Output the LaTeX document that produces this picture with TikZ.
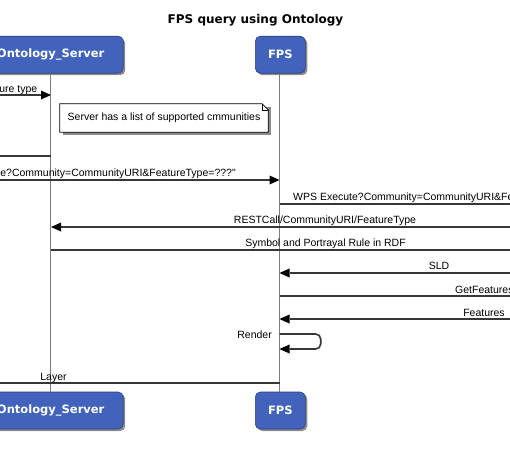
\documentclass[tikz,border=0pt]{standalone}
\usepackage{fontspec}
\setmainfont{Liberation Sans}
\newfontfamily\headfont{DejaVu Sans}
\usetikzlibrary{arrows.meta,calc,shadows}
\definecolor{boxblue}{RGB}{66,99,187}
\definecolor{boxedge}{RGB}{45,65,130}
\definecolor{lifegray}{RGB}{125,125,125}
\definecolor{msgcol}{RGB}{55,55,55}
\tikzset{
  participant/.style={draw=boxedge, line width=0.6pt, fill=boxblue, rounded corners=5pt,
    text=white, font=\headfont\bfseries\fontsize{11.5}{13}\selectfont,
    minimum height=37pt, inner sep=0pt,
    drop shadow={shadow xshift=2pt, shadow yshift=-2pt, opacity=0.45, fill=black}},
  lifeline/.style={draw=lifegray, line width=1.2pt},
  msg/.style={draw=msgcol, line width=1.6pt, -{Triangle[length=10pt,width=9pt,fill=black,line width=0pt]}},
  lbl/.style={font=\fontsize{10.5}{12}\selectfont, inner sep=0pt, text=black},
  notebox/.style={font=\fontsize{10.5}{12}\selectfont, inner sep=0pt, minimum width=208pt, minimum height=28pt}
}
\begin{document}
\begin{tikzpicture}[x=1pt,y=-1pt]
\useasboundingbox (0,0) rectangle (510,448);
\clip (0,0) rectangle (510,448);
\fill[white] (0,0) rectangle (510,448);

% title
\node[anchor=base, font=\headfont\bfseries\fontsize{12}{14}\selectfont, inner sep=0pt] (title) at (255.5,23.5) {FPS query using Ontology};

% participant boxes
\node[participant, minimum width=145pt] (osTop) at (50.7,54.7) {Ontology\_Server};
\node[participant, minimum width=50pt] (fpsTop) at (280.3,54.7) {FPS};
\node[participant, minimum width=145pt] (osBot) at (50.7,410.5) {Ontology\_Server};
\node[participant, minimum width=50pt] (fpsBot) at (280.3,410.5) {FPS};

% lifelines
\draw[lifeline] (osTop.south) -- (osBot.north);
\draw[lifeline] ([xshift=-0.8pt]fpsTop.south) -- ([xshift=-0.8pt]fpsBot.north);

% off-screen participants
\coordinate (L) at (-60,0);
\coordinate (R) at (570,0);
\coordinate (OS) at (51,0);
\coordinate (FP) at (279.5,0);

% messages
\draw[msg] (L |- 0,95) -- (OS |- 0,95);
\node[lbl, anchor=base east] (m1) at (37.5,92) {ure type};

\draw[msg] (OS |- 0,156) -- (L |- 0,156);

\draw[msg] (L |- 0,180) -- (FP |- 0,180);
\node[lbl, anchor=base east] (m3) at (236,176.5) {e?Community=CommunityURI\&FeatureType=???\textquotedbl};

\draw[msg] (FP |- 0,204) -- (R |- 0,204);
\node[lbl, anchor=base west] (m4) at (293,200.5) {WPS Execute?Community=CommunityURI\&FeatureType};

\draw[msg] (R |- 0,227) -- (OS |- 0,227);
\node[lbl, anchor=base] (m5) at (325,223.3) {RESTCall/CommunityURI/FeatureType};

\draw[msg] (OS |- 0,250) -- (R |- 0,250);
\node[lbl, anchor=base] (m6) at (325.5,246.5) {Symbol and Portrayal Rule in RDF};

\draw[msg] (R |- 0,273) -- (FP |- 0,273);
\node[lbl, anchor=base] (m7) at (439,269.5) {SLD};

\draw[msg] (FP |- 0,296) -- (R |- 0,296);
\node[lbl, anchor=base west] (m8) at (455,293) {GetFeatures};

\draw[msg] (R |- 0,319) -- (FP |- 0,319);
\node[lbl, anchor=base] (m9) at (484,316) {Features};

\coordinate (loopR) at (320.7,0);
\draw[msg, rounded corners=5pt] (FP |- 0,334) -- (loopR |- 0,334) -- (loopR |- 0,349) -- (FP |- 0,349);
\node[lbl, anchor=base east] (m10) at (272,338) {Render};

\draw[msg] (FP |- 0,383) -- (L |- 0,383);
\node[lbl, anchor=base] (m11) at (53.5,380) {Layer};

% note
\node[notebox] (note) at (164,118) {Server has a list of supported cmmunities};
\fill[black!45] ($(note.north west)+(3,3)$) -- ($(note.north east)+(3,3)$) -- ($(note.south east)+(3,3)$) -- ($(note.south west)+(3,3)$) -- cycle;
\filldraw[fill=white, draw=black, line width=0.8pt]
  (note.north west) -- ($(note.north east)+(-6,0)$) -- ($(note.north east)+(0,6)$)
  -- (note.south east) -- (note.south west) -- cycle;
\draw[line width=0.6pt] ($(note.north east)+(-6,0)$) -- ($(note.north east)+(-6,6)$) -- ($(note.north east)+(0,6)$);
\node[notebox] at (note.center) {Server has a list of supported cmmunities};
\end{tikzpicture}
\end{document}
